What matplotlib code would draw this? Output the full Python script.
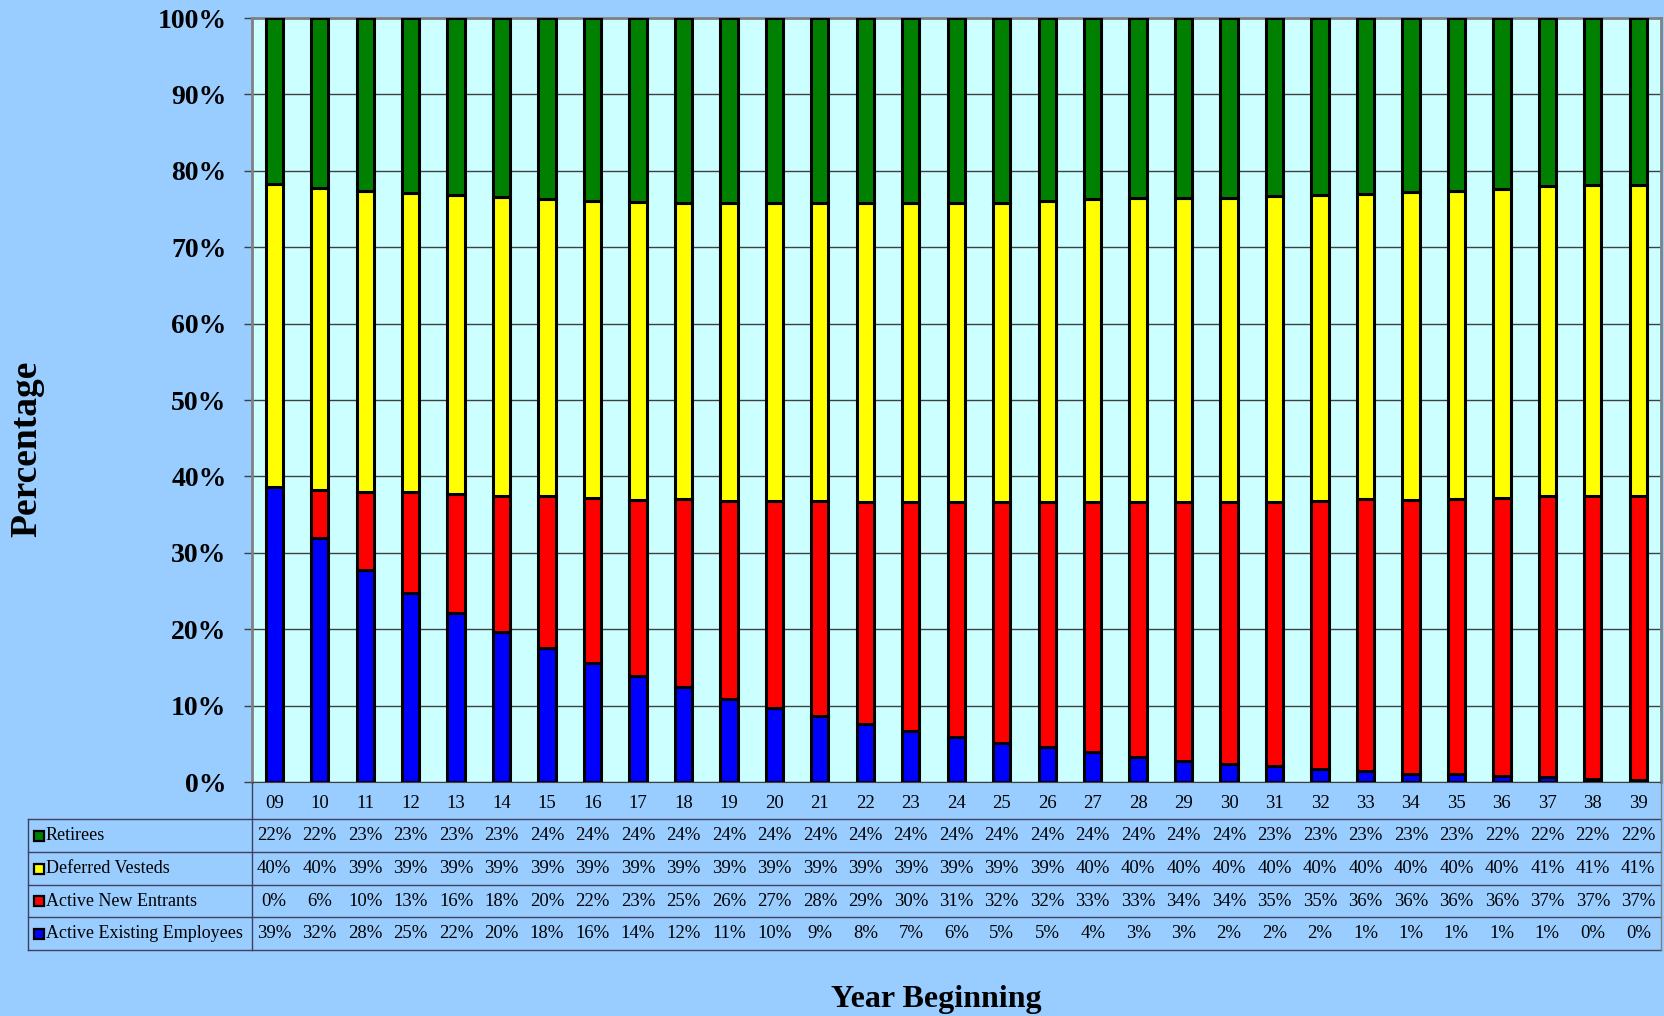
import numpy as np
import matplotlib
matplotlib.use('Agg')
import matplotlib.pyplot as plt
from matplotlib.patches import Rectangle
from matplotlib.lines import Line2D
from matplotlib.transforms import blended_transform_factory

plt.rcParams['font.family'] = ['Liberation Serif', 'DejaVu Serif']

# 数据（从图中读取的百分比）
years = ['09', '10', '11', '12', '13', '14', '15', '16', '17', '18', '19', '20', '21', '22', '23', '24',
         '25', '26', '27', '28', '29', '30', '31', '32', '33', '34', '35', '36', '37', '38', '39']
existing = [38.6, 31.9, 27.8, 24.8, 22.1, 19.6, 17.6, 15.6, 13.9, 12.4, 10.8, 9.7, 8.7, 7.6, 6.7, 5.9,
            5.1, 4.6, 3.9, 3.3, 2.8, 2.4, 2.1, 1.7, 1.4, 1.1, 1.0, 0.8, 0.6, 0.4, 0.3]
new_entrants = [0.0, 6.3, 10.2, 13.1, 15.6, 17.9, 19.8, 21.6, 23.0, 24.6, 26.0, 27.1, 28.1, 29.1, 30.0, 30.8,
                31.6, 32.1, 32.8, 33.4, 33.9, 34.3, 34.6, 35.1, 35.6, 35.8, 36.1, 36.4, 36.8, 37.1, 37.2]
deferred = [39.7, 39.6, 39.4, 39.2, 39.1, 39.1, 38.9, 38.9, 39.0, 38.8, 39.0, 39.0, 39.0, 39.1, 39.1, 39.1,
            39.1, 39.3, 39.6, 39.7, 39.7, 39.7, 40.0, 40.0, 40.0, 40.3, 40.3, 40.4, 40.6, 40.6, 40.7]
retirees = [21.7, 22.2, 22.6, 22.9, 23.2, 23.4, 23.7, 23.9, 24.1, 24.2, 24.2, 24.2, 24.2, 24.2, 24.2, 24.2,
            24.2, 24.0, 23.7, 23.6, 23.6, 23.6, 23.3, 23.2, 23.0, 22.8, 22.6, 22.4, 22.0, 21.9, 21.8]

series_names = ['Active Existing Employees', 'Active New Entrants', 'Deferred Vesteds', 'Retirees']
series_vals = [existing, new_entrants, deferred, retirees]
colors = ['#0000FF', '#FF0000', '#FFFF00', '#008000']

W, H = 1664, 1016
def fx(px):
    return px / W
def fy(py):
    return 1 - py / H

fig = plt.figure(figsize=(W / 100, H / 100), dpi=100, facecolor='#99CCFF')

left, right, top, bot = 251.5, 1661, 18, 782
ax = fig.add_axes([fx(left), fy(bot), (right - left) / W, (bot - top) / H])
ax.set_facecolor('#CCFFFF')

x = np.arange(len(years))
bottom = np.zeros(len(years))
for vals, col in zip(series_vals, colors):
    vals = np.array(vals)
    ax.bar(x, vals, 0.38, bottom=bottom, color=col, edgecolor='black', linewidth=2.2, zorder=3)
    bottom += vals

ax.set_xlim(-0.5, len(years) - 0.5)
ax.set_ylim(0, 100)
ax.set_yticks(range(0, 101, 10))
ax.set_yticklabels([f'{v}%' for v in range(0, 101, 10)], fontsize=20, fontweight='bold')
ax.tick_params(axis='y', length=6, width=1, color='#404040', pad=12)
ax.set_xticks([])
ax.yaxis.grid(True, color='#404040', linewidth=1, zorder=1)
ax.set_axisbelow(True)
for s in ['top', 'right', 'left']:
    ax.spines[s].set_color('#808080')
    ax.spines[s].set_linewidth(2)
ax.spines['bottom'].set_color('#404040')

# 年份标签 + 数据表
tr = blended_transform_factory(ax.transData, fig.transFigure)
for i, y in enumerate(years):
    ax.text(i, fy(803), y, transform=tr, ha='center', va='center', fontsize=13.5)

row_edges = [819, 852, 885, 917, 950]
row_order = [3, 2, 1, 0]  # 从上到下: Retirees, Deferred, New, Existing
for r, si in enumerate(row_order):
    yc = (row_edges[r] + row_edges[r + 1]) / 2
    for i, v in enumerate(series_vals[si]):
        ax.text(i, fy(yc), f'{v:.0f}%', transform=tr, ha='center', va='center', fontsize=13.5)
    fig.patches.append(Rectangle((fx(34), fy(yc + 5)), 10 / W, 10 / H, transform=fig.transFigure,
                                 facecolor=colors[si], edgecolor='black', linewidth=1.6))
    fig.text(fx(46), fy(yc), series_names[si], ha='left', va='center', fontsize=13)

lc = '#404060'
for ye in row_edges:
    fig.add_artist(Line2D([fx(28), fx(right)], [fy(ye), fy(ye)], color=lc, linewidth=1))
fig.add_artist(Line2D([fx(28), fx(28)], [fy(819), fy(950)], color=lc, linewidth=1))
fig.add_artist(Line2D([fx(left), fx(left)], [fy(782), fy(950)], color=lc, linewidth=1))
fig.add_artist(Line2D([fx(right), fx(right)], [fy(782), fy(950)], color='#808080', linewidth=1))

fig.text(fx(27), fy(449), 'Percentage', rotation=90, ha='center', va='center', fontsize=27, fontweight='bold')
fig.text(fx(936), fy(1000), 'Year Beginning', ha='center', va='center', fontsize=23, fontweight='bold')

fig.savefig('out.png', dpi=100, facecolor=fig.get_facecolor())
